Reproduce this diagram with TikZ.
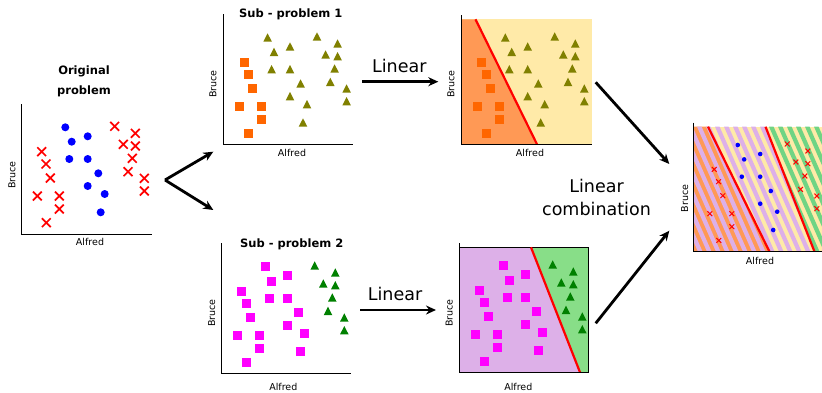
\documentclass[tikz,border=0pt]{standalone}
\usepackage{fontspec}
\setmainfont{DejaVu Sans}
\usetikzlibrary{arrows.meta}
\definecolor{mkorange}{RGB}{255,102,0}
\definecolor{mkolive}{RGB}{128,128,0}
\definecolor{mkmag}{RGB}{255,0,255}
\definecolor{mkgreen}{RGB}{0,128,0}
\definecolor{mkblue}{RGB}{0,0,255}
\definecolor{mkred}{RGB}{255,0,0}
\definecolor{fora}{RGB}{255,153,85}
\definecolor{fyel}{RGB}{255,234,168}
\definecolor{fpur}{RGB}{221,176,232}
\definecolor{fgrn}{RGB}{136,222,136}
\definecolor{sgrn}{RGB}{112,212,132}
\def\circs{44.3/106.7, 50.7/92.3, 66.7/97.7, 48.3/75, 66.7/75, 77.3/60.7, 66.7/48, 83.7/40, 79.7/21.7}
\def\rcross{93.7/107.7, 114.3/100.7, 102.3/89.7, 114.3/88, 111.3/75.7, 107/62.3, 123.3/55.7, 123.3/43}
\def\lcross{20.7/82.3, 25/70, 29.3/56, 16.3/38, 38.3/38, 38.3/25, 25.3/11.3}
\tikzset{
  pics/sqm/.style={code={\fill[#1] (-4.5,-4.5) rectangle (4.5,4.5);}},
  pics/trim/.style={code={\fill[#1] (0,4.3) -- (-4.3,-4.1) -- (4.3,-4.1) -- cycle;}},
  pics/cirm/.style={code={\fill[#1] (0,0) circle (4);}},
  pics/crm/.style={code={\draw[#1, line width=1.7pt] (-4.4,-4.4) -- (4.4,4.4) (-4.4,4.4) -- (4.4,-4.4);}},
  pics/cirs/.style={code={\fill[#1] (0,0) circle (2.3);}},
  pics/crs/.style={code={\draw[#1, line width=1pt] (-2.4,-2.4) -- (2.4,2.4) (-2.4,2.4) -- (2.4,-2.4);}},
  axisln/.style={draw=black, line width=0.9pt},
  redln/.style={draw=mkred, line width=2.2pt},
  axlab/.style={font=\fontsize{9.5}{11}\selectfont},
  ttl/.style={font=\fontsize{11.5}{13}\selectfont\bfseries, anchor=base},
  biglab/.style={font=\fontsize{17.5}{21}\selectfont},
  bigarrow/.style={line width=2.8pt, -{Stealth[length=10pt,width=9pt]}},
  stripe/.style={line width=4.2pt}
}
\begin{document}
\begin{tikzpicture}[x=1pt,y=1pt]
\useasboundingbox (0,0) rectangle (822,392);

% ---------- Original problem ----------
\begin{scope}[shift={(21,158)}]
  \foreach \x/\y in \circs {\pic at (\x,\y) {cirm=mkblue};}
  \foreach \x/\y in \rcross {\pic at (\x,\y) {crm=mkred};}
  \foreach \x/\y in \lcross {\pic at (\x,\y) {crm=mkred};}
  \draw[axisln] (0,130) -- (0,0) -- (131,0);
\end{scope}
\node[ttl] (t0a) at (84,318) {Original};
\node[ttl] (t0b) at (84,297.7) {problem};
\node[axlab] (a0) at (90,150) {Alfred};
\node[axlab, rotate=90] (b0) at (12,217) {Bruce};

% ---------- Sub-problem 1 ----------
\begin{scope}[shift={(223.3,247.7)}]
  \foreach \x/\y in \lcross {\pic at (\x,\y) {sqm=mkorange};}
  \foreach \x/\y in \circs {\pic at (\x,\y) {trim=mkolive};}
  \foreach \x/\y in \rcross {\pic at (\x,\y) {trim=mkolive};}
  \draw[axisln] (0,130) -- (0,0) -- (130,0);
\end{scope}
\node[ttl] (t1) at (290.7,374.7) {Sub - problem 1};
\node[axlab] (a1) at (292,239.3) {Alfred};
\node[axlab, rotate=90] (b1) at (213,308) {Bruce};

% ---------- Sub-problem 2 ----------
\begin{scope}[shift={(221,18.7)}]
  \foreach \x/\y in \lcross {\pic at (\x,\y) {sqm=mkmag};}
  \foreach \x/\y in \circs {\pic at (\x,\y) {sqm=mkmag};}
  \foreach \x/\y in \rcross {\pic at (\x,\y) {trim=mkgreen};}
  \draw[axisln] (0,130) -- (0,0) -- (130,0);
\end{scope}
\node[ttl] (t2) at (291.7,144.3) {Sub - problem 2};
\node[axlab] (a2) at (283.3,5.3) {Alfred};
\node[axlab, rotate=90] (b2) at (211.7,79) {Bruce};

% ---------- Linear 1 ----------
\begin{scope}[shift={(461,247.7)}]
  \fill[fyel] (0,0) rectangle (130.5,125);
  \fill[fora] (0,0) -- (0,125) -- (14.5,125) -- (76,0) -- cycle;
  \draw[redln] (14.5,125) -- (76,0);
  \foreach \x/\y in \lcross {\pic at (\x,\y) {sqm=mkorange};}
  \foreach \x/\y in \circs {\pic at (\x,\y) {trim=mkolive};}
  \foreach \x/\y in \rcross {\pic at (\x,\y) {trim=mkolive};}
  \draw[axisln] (0,129) -- (0,0) -- (130.5,0);
\end{scope}
\node[axlab] (a3) at (530,239.3) {Alfred};
\node[axlab, rotate=90] (b3) at (451,308) {Bruce};

% ---------- Linear 2 ----------
\begin{scope}[shift={(459,19.7)}]
  \fill[fpur] (0,0) rectangle (129.5,125);
  \fill[fgrn] (72,125) -- (129.5,125) -- (129.5,0) -- (121,0) -- cycle;
  \draw[black, line width=0.8pt] (0,125) -- (129.5,125) -- (129.5,0);
  \draw[redln] (72,125) -- (121,0);
  \foreach \x/\y in \lcross {\pic at (\x,\y) {sqm=mkmag};}
  \foreach \x/\y in \circs {\pic at (\x,\y) {sqm=mkmag};}
  \foreach \x/\y in \rcross {\pic at (\x,\y) {trim=mkgreen};}
  \draw[axisln] (0,129) -- (0,0) -- (129.5,0);
\end{scope}
\node[axlab] (a4) at (518.3,4.7) {Alfred};
\node[axlab, rotate=90] (b4) at (449.3,79) {Bruce};

% ---------- Combination ----------
\begin{scope}[shift={(693.5,140.3)}]
  \begin{scope}
    \clip (0,0) rectangle (128.5,125);
    \fill[fyel] (0,0) rectangle (130,125);
    \fill[fora] (0,0) -- (0,125) -- (14.5,125) -- (76,0) -- cycle;
    \begin{scope}
      \clip (0,0) -- (0,125) -- (72,125) -- (121,0) -- cycle;
      \foreach \c in {0,9,...,200} {\draw[fpur, stripe] (\c,-5) -- (\c-59.4,130);}
    \end{scope}
    \begin{scope}
      \clip (72,125) -- (130,125) -- (130,0) -- (121,0) -- cycle;
      \foreach \c in {0,9,...,200} {\draw[sgrn, stripe] (\c,-5) -- (\c-59.4,130);}
    \end{scope}
    \draw[redln] (14.5,125) -- (76,0);
    \draw[redln] (72,125) -- (121,0);
  \end{scope}
  \foreach \x/\y in \circs {\pic at (\x,\y) {cirs=mkblue};}
  \foreach \x/\y in \rcross {\pic at (\x,\y) {crs=mkred};}
  \foreach \x/\y in \lcross {\pic at (\x,\y) {crs=mkred};}
  \draw[axisln] (0,129) -- (0,0) -- (128.5,0);
\end{scope}
\node[axlab] (a5) at (760,131.3) {Alfred};
\node[axlab, rotate=90] (b5) at (684.7,193.7) {Bruce};

% ---------- Arrows and labels ----------
\coordinate (split) at (165,212);
\coordinate (s1in) at (213.3,240.3);
\coordinate (s2in) at (213.3,182);
\draw[bigarrow] (split) -- (s1in);
\draw[bigarrow] (split) -- (s2in);

\coordinate (l1out) at (362.3,310.3);
\coordinate (l1in) at (438.3,310.3);
\draw[bigarrow] (l1out) -- (l1in);
\node[biglab, anchor=base] (lin1) at (399.3,319.3) {Linear};

\coordinate (l2out) at (360,82);
\coordinate (l2in) at (436,82);
\draw[bigarrow] (l2out) -- (l2in);
\node[biglab, anchor=base] (lin2) at (395,92) {Linear};

\coordinate (c1out) at (595.7,309.7);
\coordinate (c1in) at (669.3,228);
\coordinate (c2out) at (595.7,68.7);
\coordinate (c2in) at (669.3,161.3);
\draw[bigarrow] (c1out) -- (c1in);
\draw[bigarrow] (c2out) -- (c2in);
\node[biglab, anchor=base, inner sep=0pt] (lc1) at (596.5,199.3) {Linear};
\node[biglab, anchor=base, inner sep=0pt] (lc2) at (596.5,177) {combination};
\end{tikzpicture}
\end{document}
